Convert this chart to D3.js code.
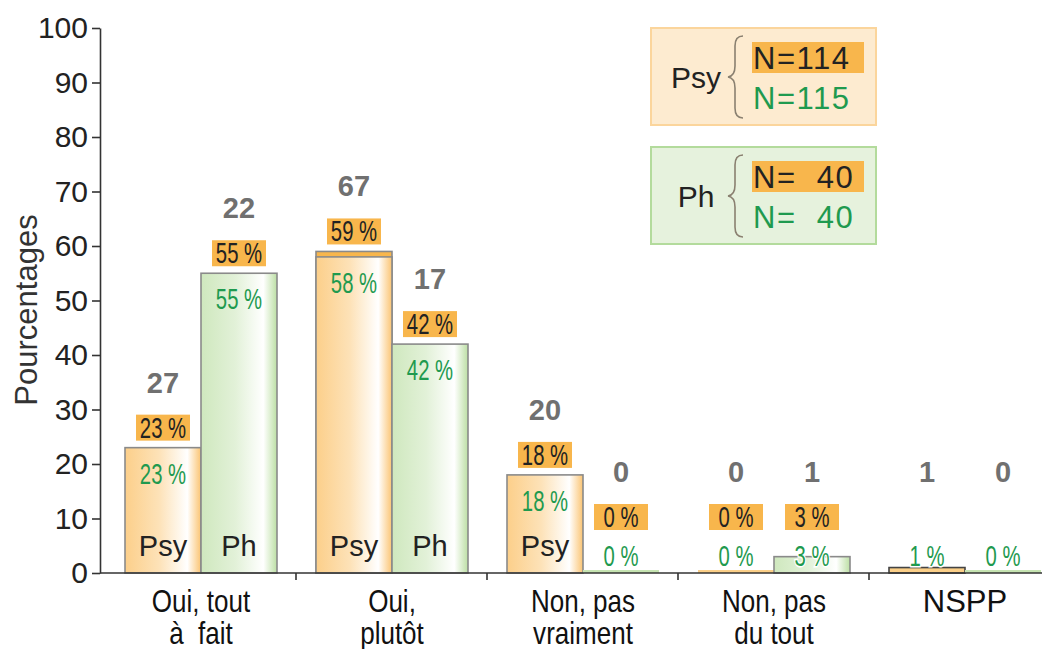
<!doctype html>
<html>
<head>
<meta charset="utf-8">
<script src="https://cdn.jsdelivr.net/npm/d3@7/dist/d3.min.js"></script>
<style>
    html, body { margin: 0; padding: 0; background: #fff; }
    svg { display: block; font-family: "Liberation Sans", Arial, sans-serif; }
</style>
</head>
<body>
<svg id="chart" width="1048" height="649"></svg>
<script>
    // data
    var categories = ["Oui, tout à fait", "Oui, plutôt", "Non, pas vraiment", "Non, pas du tout", "NSPP"];
    var categoryLines = [["Oui, tout", "à  fait"], ["Oui,", "plutôt"], ["Non, pas", "vraiment"], ["Non, pas", "du tout"], ["NSPP"]];
    var groups = ["Psy", "Ph"];
    var psyCounts = [27, 67, 20, 0, 1];
    var phCounts = [22, 17, 0, 1, 0];
    var psyFirst = [23, 59, 18, 0, null];    // orange labels (N=114)
    var psySecond = [23, 58, 18, 0, 1];      // green labels (N=115)
    var phFirst = [55, 42, 0, 3, null];      // orange labels (N=40)
    var phSecond = [55, 42, 0, 3, 0];        // green labels (N=40)
    var yTicks = [0, 10, 20, 30, 40, 50, 60, 70, 80, 90, 100];
    var legendRows = [
        {name: "Psy", first: "N=114", second: "N=115"},
        {name: "Ph", first: "N=  40", second: "N=  40"}
    ];

    var svg = d3.select("#chart");

    var y = d3.scaleLinear().domain([0, 100]).range([573, 28]);
    var x0 = d3.scaleBand().domain(categories).range([105, 1060]);
    var x1 = d3.scaleBand().domain(groups).range([20, 172]);

    var grey = "#8a8a8a", orange = "#f8b64c", green = "#1f9a4f";

    // gradients for the bars
    var defs = svg.append("defs");
    function gradient(id, c1, c2, c3) {
        var g = defs.append("linearGradient").attr("id", id).attr("x1", 0).attr("x2", 1).attr("y1", 0).attr("y2", 0);
        g.append("stop").attr("offset", "0%").attr("stop-color", c1);
        g.append("stop").attr("offset", "45%").attr("stop-color", c2);
        g.append("stop").attr("offset", "82%").attr("stop-color", "#ffffff");
        g.append("stop").attr("offset", "100%").attr("stop-color", c3);
    }
    gradient("gPsy", "#fccf8a", "#fde2b8", "#fbc472");
    gradient("gPh", "#cfe8be", "#e2f1d8", "#bcdfa4");

    // y axis
    var yAxis = svg.append("g")
        .attr("transform", "translate(100,0)")
        .call(d3.axisLeft(y).tickValues(yTicks).tickSize(8).tickSizeOuter(0).tickPadding(4));
    yAxis.select(".domain").attr("stroke", "#333").attr("stroke-width", 1.6);
    yAxis.selectAll(".tick line").attr("stroke", "#333").attr("stroke-width", 1.6);
    yAxis.selectAll(".tick text")
        .attr("font-size", 30).attr("fill", "#222")
        .attr("font-family", "'Liberation Sans', Arial, sans-serif");

    svg.append("text")
        .attr("transform", "translate(37,310) rotate(-90)")
        .attr("text-anchor", "middle")
        .attr("font-size", 31).attr("fill", "#333")
        .text("Pourcentages");

    // bars
    var series = [
        {name: "Psy", counts: psyCounts, first: psyFirst, second: psySecond, fill: "url(#gPsy)", flat: "#fbcf88"},
        {name: "Ph", counts: phCounts, first: phFirst, second: phSecond, fill: "url(#gPh)", flat: "#c6e4b2"}
    ];

    function condensed(sel, x, yy, sx) {
        return sel.attr("transform", "translate(" + x + "," + yy + ") scale(" + sx + ",1)");
    }

    var bw = x1.bandwidth();
    series.forEach(function (s) {
        categories.forEach(function (c, i) {
            var bx = x0(c) + x1(s.name);
            var cx = bx + bw / 2;
            var g = svg.append("g");
            var v1 = s.first[i], v2 = s.second[i];
            var top = Math.max(v1 == null ? 0 : v1, v2);

            if (top === 0) {
                g.append("rect").attr("x", bx).attr("y", y(0) - 3).attr("width", bw).attr("height", 3)
                    .attr("fill", s.flat);
            } else {
                if (v1 != null && v1 > v2) {
                    g.append("rect").attr("x", bx).attr("y", y(v1)).attr("width", bw).attr("height", y(0) - y(v1))
                        .attr("fill", orange).attr("stroke", grey).attr("stroke-width", 1.6);
                }
                g.append("rect").attr("x", bx).attr("y", y(v2)).attr("width", bw).attr("height", y(0) - y(v2))
                    .attr("fill", s.fill).attr("stroke", grey).attr("stroke-width", 1.6);
                if (s.name === "Psy" && v1 == null) {
                    g.select("rect").attr("fill", s.flat).attr("stroke", "#444");
                }
            }

            // label positions
            var greenY = Math.min(y(v2) + 26, 556);
            var orangeY = Math.min(y(top) - 20, 517);
            var countY = orangeY - 45;

            // count
            g.append("text").attr("x", cx).attr("y", countY + 10)
                .attr("text-anchor", "middle").attr("font-size", 29).attr("font-weight", "bold")
                .attr("fill", "#707070").text(s.counts[i]);

            // orange label
            if (v1 != null) {
                g.append("rect").attr("x", cx - 27).attr("y", orangeY - 13).attr("width", 54).attr("height", 26)
                    .attr("fill", orange);
                condensed(g.append("text"), cx, orangeY + 10, 0.7)
                    .attr("text-anchor", "middle").attr("font-size", 29).attr("fill", "#222")
                    .text(v1 + " %");
            }

            // green label
            var gt = condensed(g.append("text"), cx, greenY + 10, 0.7)
                .attr("text-anchor", "middle").attr("font-size", 29).attr("fill", green)
                .text(v2 + " %");
            if (greenY === 556) {
                gt.attr("stroke", "#fff").attr("stroke-width", 3).attr("paint-order", "stroke");
            }

            // group name in tall bars
            if (v2 >= 15) {
                g.append("text").attr("x", cx).attr("y", 556)
                    .attr("text-anchor", "middle").attr("font-size", 29).attr("fill", "#222")
                    .text(s.name);
            }
        });
    });

    // x axis
    svg.append("line").attr("x1", 100).attr("x2", 1042).attr("y1", y(0)).attr("y2", y(0))
        .attr("stroke", "#333").attr("stroke-width", 1.6);
    svg.selectAll(".xtick").data(categories.slice(1)).enter().append("line")
        .attr("x1", function (d) { return x0(d); }).attr("x2", function (d) { return x0(d); })
        .attr("y1", y(0)).attr("y2", y(0) + 7)
        .attr("stroke", "#333").attr("stroke-width", 1.6);

    categories.forEach(function (c, i) {
        var cx = x0(c) + x1("Psy") + bw;
        categoryLines[i].forEach(function (line, j) {
            var t = svg.append("text");
            condensed(t, cx, 612 + j * 32, i === 4 ? 1 : 0.84)
                .attr("text-anchor", "middle").attr("font-size", 31).attr("fill", "#111")
                .style("white-space", "pre")
                .text(line);
        });
    });

    // legend
    var legendBoxes = [
        {x: 651, y: 28, fill: "#fdebd0", stroke: "#fbd59c"},
        {x: 651, y: 147, fill: "#e6f2dd", stroke: "#b3db9c"}
    ];
    legendRows.forEach(function (r, i) {
        var b = legendBoxes[i];
        var lg = svg.append("g").attr("transform", "translate(" + b.x + "," + b.y + ")");
        lg.append("rect").attr("width", 225).attr("height", 97)
            .attr("fill", b.fill).attr("stroke", b.stroke).attr("stroke-width", 2);
        lg.append("text").attr("x", 45).attr("y", 60).attr("text-anchor", "middle")
            .attr("font-size", 30).attr("fill", "#222").text(r.name);
        // brace
        lg.append("path")
            .attr("d", "M92,8 Q84,8 84,18 L84,38 Q84,48 77,49 Q84,50 84,60 L84,80 Q84,90 92,90")
            .attr("fill", "none").attr("stroke", "#8a8070").attr("stroke-width", 1.6);
        lg.append("rect").attr("x", 101).attr("y", 14).attr("width", 112).attr("height", 31).attr("fill", orange);
        lg.append("text").attr("x", 102).attr("y", 41).attr("font-size", 31).attr("fill", "#222")
            .attr("letter-spacing", 1.5)
            .style("white-space", "pre").text(r.first);
        lg.append("text").attr("x", 102).attr("y", 81).attr("font-size", 31).attr("fill", green)
            .attr("letter-spacing", 1.5)
            .style("white-space", "pre").text(r.second);
    });
</script>
</body>
</html>
